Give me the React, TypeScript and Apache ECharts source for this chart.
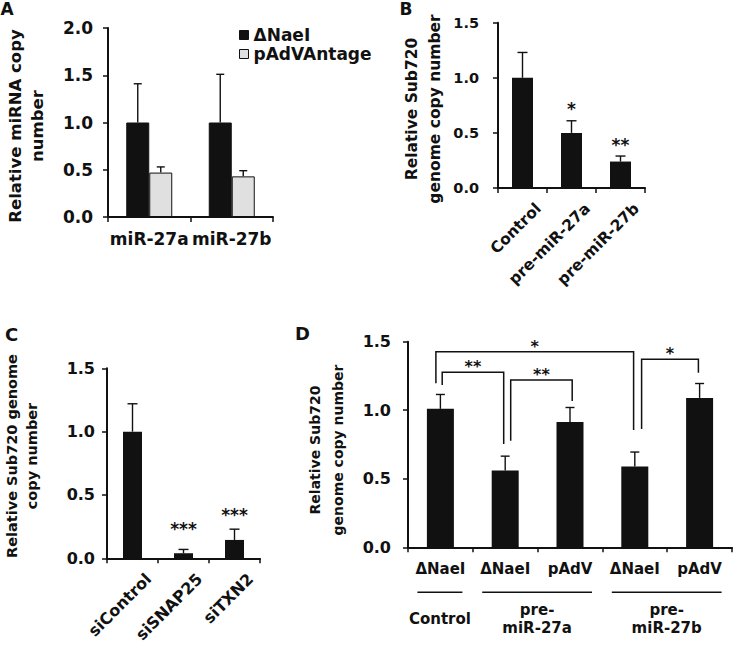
import React, { useEffect, useRef } from 'react';
import * as echarts from 'echarts';

// ---------------- data ----------------
// Panel A
const aCategories = ['miR-27a', 'miR-27b'];
const aNaeI = [1.0, 1.0];
const aNaeIErr = [1.41, 1.51];
const aPAdV = [0.47, 0.43];
const aPAdVErr = [0.53, 0.49];

// Panel B
const bCategories = ['Control', 'pre-miR-27a', 'pre-miR-27b'];
const bValues = [1.0, 0.5, 0.24];
const bErr = [1.23, 0.61, 0.29];
const bStars = ['', '*', '**'];
const bStarAt = [0, 0.745, 0.42];

// Panel C
const cCategories = ['siControl', 'siSNAP25', 'siTXN2'];
const cValues = [1.0, 0.04, 0.145];
const cErr = [1.22, 0.07, 0.23];
const cStars = ['', '***', '***'];
const cStarAt = [0, 0.255, 0.368];

// Panel D
const dCategories = ['ΔNaeI', 'ΔNaeI', 'pAdV', 'ΔNaeI', 'pAdV'];
const dValues = [1.01, 0.56, 0.915, 0.59, 1.09];
const dErr = [1.115, 0.665, 1.02, 0.695, 1.195];
const dGroups = ['Control', 'pre-\nmiR-27a', 'pre-\nmiR-27b'];
const dGroupFrom = [0, 1, 3];
const dGroupTo = [0, 2, 4];
const dBracketFrom = [0, 0, 1, 3];
const dBracketTo = [3, 1, 2, 4];
const dBracketTop = [1.427, 1.277, 1.221, 1.372];
const dBracketLeftEnd = [1.196, 1.184, 0.778, 0.863];
const dBracketRightEnd = [0.856, 0.754, 1.067, 1.274];
const dBracketStars = ['*', '**', '**', '*'];

// ---------------- style ----------------
const FONT = '"DejaVu Sans", "Liberation Sans", Arial, sans-serif';
const INK = '#111111';
const LIGHT = '#e0e0e0';
const bracketShift = [[-4.5, -1.2], [1.8, -1.5], [5.5, 2.2], [6.8, -1.2]];

const txt = (size: number) => ({ fontFamily: FONT, fontWeight: 'bold' as const, fontSize: size, color: INK });
const font = (size: number) => `bold ${size}px ${FONT}`;

function xCat(grid: number, data: string[], size: number, margin: number, show = true) {
  return {
    type: 'category', gridIndex: grid, data,
    axisLine: { show: true, onZero: false, lineStyle: { color: INK, width: 2 } },
    axisTick: { show: true, length: 5, interval: 0, lineStyle: { color: INK, width: 1.5 } },
    axisLabel: { show, interval: 0, margin, ...txt(size) },
    splitLine: { show: false },
  };
}

function yVal(grid: number, max: number, size: number, margin: number) {
  return {
    type: 'value', gridIndex: grid, min: 0, max, interval: 0.5,
    axisLine: { show: true, lineStyle: { color: INK, width: 2 } },
    axisTick: { show: true, length: 5, lineStyle: { color: INK, width: 1.5 } },
    axisLabel: { margin, formatter: (v: number) => v.toFixed(1), ...txt(size) },
    splitLine: { show: false },
  };
}

function errSeries(axis: number, vals: number[], errs: number[], offset: number, cap: number) {
  return {
    type: 'custom', xAxisIndex: axis, yAxisIndex: axis, z: 5, silent: true,
    data: vals.map((v, i) => [i, v, errs[i]]),
    encode: { x: 0, y: [1, 2] },
    renderItem: (_p: any, api: any) => {
      const base = api.coord([api.value(0), api.value(1)]);
      const top = api.coord([api.value(0), api.value(2)]);
      const x = base[0] + offset;
      const st = { stroke: INK, lineWidth: 1.4 };
      return {
        type: 'group', children: [
          { type: 'line', shape: { x1: x, y1: base[1], x2: x, y2: top[1] }, style: st },
          { type: 'line', shape: { x1: x - cap / 2, y1: top[1], x2: x + cap / 2, y2: top[1] }, style: st },
        ],
      };
    },
  };
}

function starSeries(axis: number, stars: string[], at: number[], size: number) {
  return {
    type: 'custom', xAxisIndex: axis, yAxisIndex: axis, z: 6, silent: true,
    data: at.map((v, i) => [i, v]),
    encode: { x: 0, y: 1 },
    renderItem: (p: any, api: any) => {
      const s = stars[p.dataIndex];
      if (!s) return null;
      const pt = api.coord([api.value(0), api.value(1)]);
      return {
        type: 'text', x: pt[0], y: pt[1] + 3,
        style: { text: s, font: font(size), fill: INK, align: 'center', verticalAlign: 'middle' },
      };
    },
  };
}

function rotLabelSeries(axis: number, cats: string[], size: number, dx: number, dy: number) {
  return {
    type: 'custom', xAxisIndex: axis, yAxisIndex: axis, z: 6, silent: true,
    data: cats.map((_c, i) => [i, 0]),
    encode: { x: 0, y: 1 },
    renderItem: (p: any, api: any) => {
      const pt = api.coord([api.value(0), 0]);
      return {
        type: 'text', x: pt[0] + dx, y: pt[1] + dy, rotation: Math.PI / 4,
        style: { text: cats[p.dataIndex], font: font(size), fill: INK, align: 'right', verticalAlign: 'middle' },
      };
    },
  };
}

function buildOption() {
  const grids = [
    { left: 108, top: 28, width: 165, height: 189 },
    { left: 498, top: 22.7, width: 147, height: 165.3 },
    { left: 107, top: 368.3, width: 153, height: 190 },
    { left: 408, top: 341.7, width: 324, height: 205.6 },
  ].map((g) => ({ ...g, containLabel: false, outerBoundsMode: 'none' }));

  const gtext = (x: number, y: number, text: string, size: number, rot = 0, lh?: number, va = 'middle') => ({
    type: 'text', x, y, rotation: rot, silent: true,
    style: { text, font: font(size), fill: INK, align: 'center', verticalAlign: va, lineHeight: lh },
  });

  return {
    animation: false,
    backgroundColor: '#ffffff',
    textStyle: { fontFamily: FONT },
    grid: grids,
    xAxis: [
      xCat(0, aCategories, 17, 13),
      xCat(1, bCategories, 15.5, 10, false),
      xCat(2, cCategories, 16, 10, false),
      xCat(3, dCategories, 15, 14),
    ],
    yAxis: [
      yVal(0, 2.0, 17, 15),
      yVal(1, 1.5, 14.5, 19),
      yVal(2, 1.5, 16, 12),
      yVal(3, 1.5, 16, 17),
    ],
    legend: {
      orient: 'vertical', left: 239, top: 25.5, padding: 0, itemGap: 0,
      itemWidth: 9, itemHeight: 9, selectedMode: false,
      textStyle: { ...txt(17), lineHeight: 19 },
      data: [
        { name: 'ΔNaeI', icon: 'rect', itemStyle: { color: INK, borderColor: INK, borderWidth: 1 } },
        { name: 'pAdVAntage', icon: 'rect', itemStyle: { color: LIGHT, borderColor: INK, borderWidth: 1 } },
      ],
    },
    graphic: [
      gtext(7, 0, 'A', 17, 0, 17, 'top'),
      gtext(406, 0.5, 'B', 17, 0, 17, 'top'),
      gtext(11.5, 334, 'C', 18),
      gtext(302.5, 333.5, 'D', 18),
      gtext(26, 126, 'Relative miRNA copy\nnumber', 16.5, Math.PI / 2, 22),
      gtext(423.5, 109, 'Relative Sub720\ngenome copy number', 15.5, Math.PI / 2, 23),
      gtext(21.7, 456, 'Relative Sub720 genome\ncopy number', 14.5, Math.PI / 2, 20),
      gtext(326.7, 450, 'Relative Sub720\ngenome copy number', 14, Math.PI / 2, 23),
    ],
    series: [
      // A
      { type: 'bar', name: 'ΔNaeI', xAxisIndex: 0, yAxisIndex: 0, data: aNaeI, barWidth: 23, barGap: '0%',
        itemStyle: { color: INK, borderColor: INK, borderWidth: 1 }, silent: true },
      { type: 'bar', name: 'pAdVAntage', xAxisIndex: 0, yAxisIndex: 0, data: aPAdV, barWidth: 23, barGap: '0%',
        itemStyle: { color: LIGHT, borderColor: INK, borderWidth: 1 }, silent: true },
      errSeries(0, aNaeI, aNaeIErr, -11.5, 8),
      errSeries(0, aPAdV, aPAdVErr, 11.5, 8),
      // B
      { type: 'bar', xAxisIndex: 1, yAxisIndex: 1, data: bValues, barWidth: 21, itemStyle: { color: INK }, silent: true },
      errSeries(1, bValues, bErr, 0, 10),
      starSeries(1, bStars, bStarAt, 17),
      rotLabelSeries(1, bCategories, 15.5, 16, 18),
      // C
      { type: 'bar', xAxisIndex: 2, yAxisIndex: 2, data: cValues, barWidth: 19, itemStyle: { color: INK }, silent: true },
      errSeries(2, cValues, cErr, 0, 10),
      starSeries(2, cStars, cStarAt, 17),
      rotLabelSeries(2, cCategories, 16, 16, 18),
      // D
      { type: 'bar', xAxisIndex: 3, yAxisIndex: 3, data: dValues, barWidth: 27, itemStyle: { color: INK }, silent: true },
      errSeries(3, dValues, dErr, 0, 9),
      {
        type: 'custom', xAxisIndex: 3, yAxisIndex: 3, z: 6, silent: true,
        data: dBracketFrom.map((f, i) => [f, dBracketTo[i], dBracketTop[i], dBracketLeftEnd[i], dBracketRightEnd[i]]),
        encode: { x: [0, 1], y: [2, 3, 4] },
        renderItem: (p: any, api: any) => {
          const i = p.dataIndex;
          const L = api.coord([api.value(0), api.value(2)]);
          const R = api.coord([api.value(1), api.value(2)]);
          const ly = api.coord([api.value(0), api.value(3)])[1];
          const ry = api.coord([api.value(1), api.value(4)])[1];
          const xl = L[0] + bracketShift[i][0];
          const xr = R[0] + bracketShift[i][1];
          return {
            type: 'group', children: [
              { type: 'polyline', shape: { points: [[xl, ly], [xl, L[1]], [xr, L[1]], [xr, ry]] },
                style: { stroke: INK, lineWidth: 1.5, fill: 'none' } },
              { type: 'text', x: (xl + xr) / 2, y: L[1] - 5.5,
                style: { text: dBracketStars[i], font: font(16), fill: INK, align: 'center', verticalAlign: 'middle' } },
            ],
          };
        },
      },
      {
        type: 'custom', xAxisIndex: 3, yAxisIndex: 3, z: 6, silent: true,
        data: dGroupFrom.map((f, i) => [f, dGroupTo[i], 0]),
        encode: { x: [0, 1], y: 2 },
        renderItem: (p: any, api: any) => {
          const i = p.dataIndex;
          const a = api.coord([api.value(0), 0]);
          const b = api.coord([api.value(1), 0]);
          const x1 = a[0] - 23;
          const x2 = b[0] + 22;
          return {
            type: 'group', children: [
              { type: 'line', shape: { x1, y1: a[1] + 45, x2, y2: a[1] + 45 }, style: { stroke: INK, lineWidth: 1.5 } },
              { type: 'text', x: (x1 + x2) / 2, y: a[1] + 72,
                style: { text: dGroups[i], font: font(15), fill: INK, align: 'center', verticalAlign: 'middle', lineHeight: 18 } },
            ],
          };
        },
      },
    ],
  };
}

export default function App() {
  const ref = useRef<HTMLDivElement>(null);
  useEffect(() => {
    const chart = echarts.init(ref.current as HTMLDivElement, null, { renderer: 'svg' });
    chart.setOption(buildOption() as any);
    return () => chart.dispose();
  }, []);
  return (
    <div
      ref={ref}
      style={{ position: 'fixed', left: 0, top: 0, width: 733, height: 647, background: '#ffffff' }}
    />
  );
}
